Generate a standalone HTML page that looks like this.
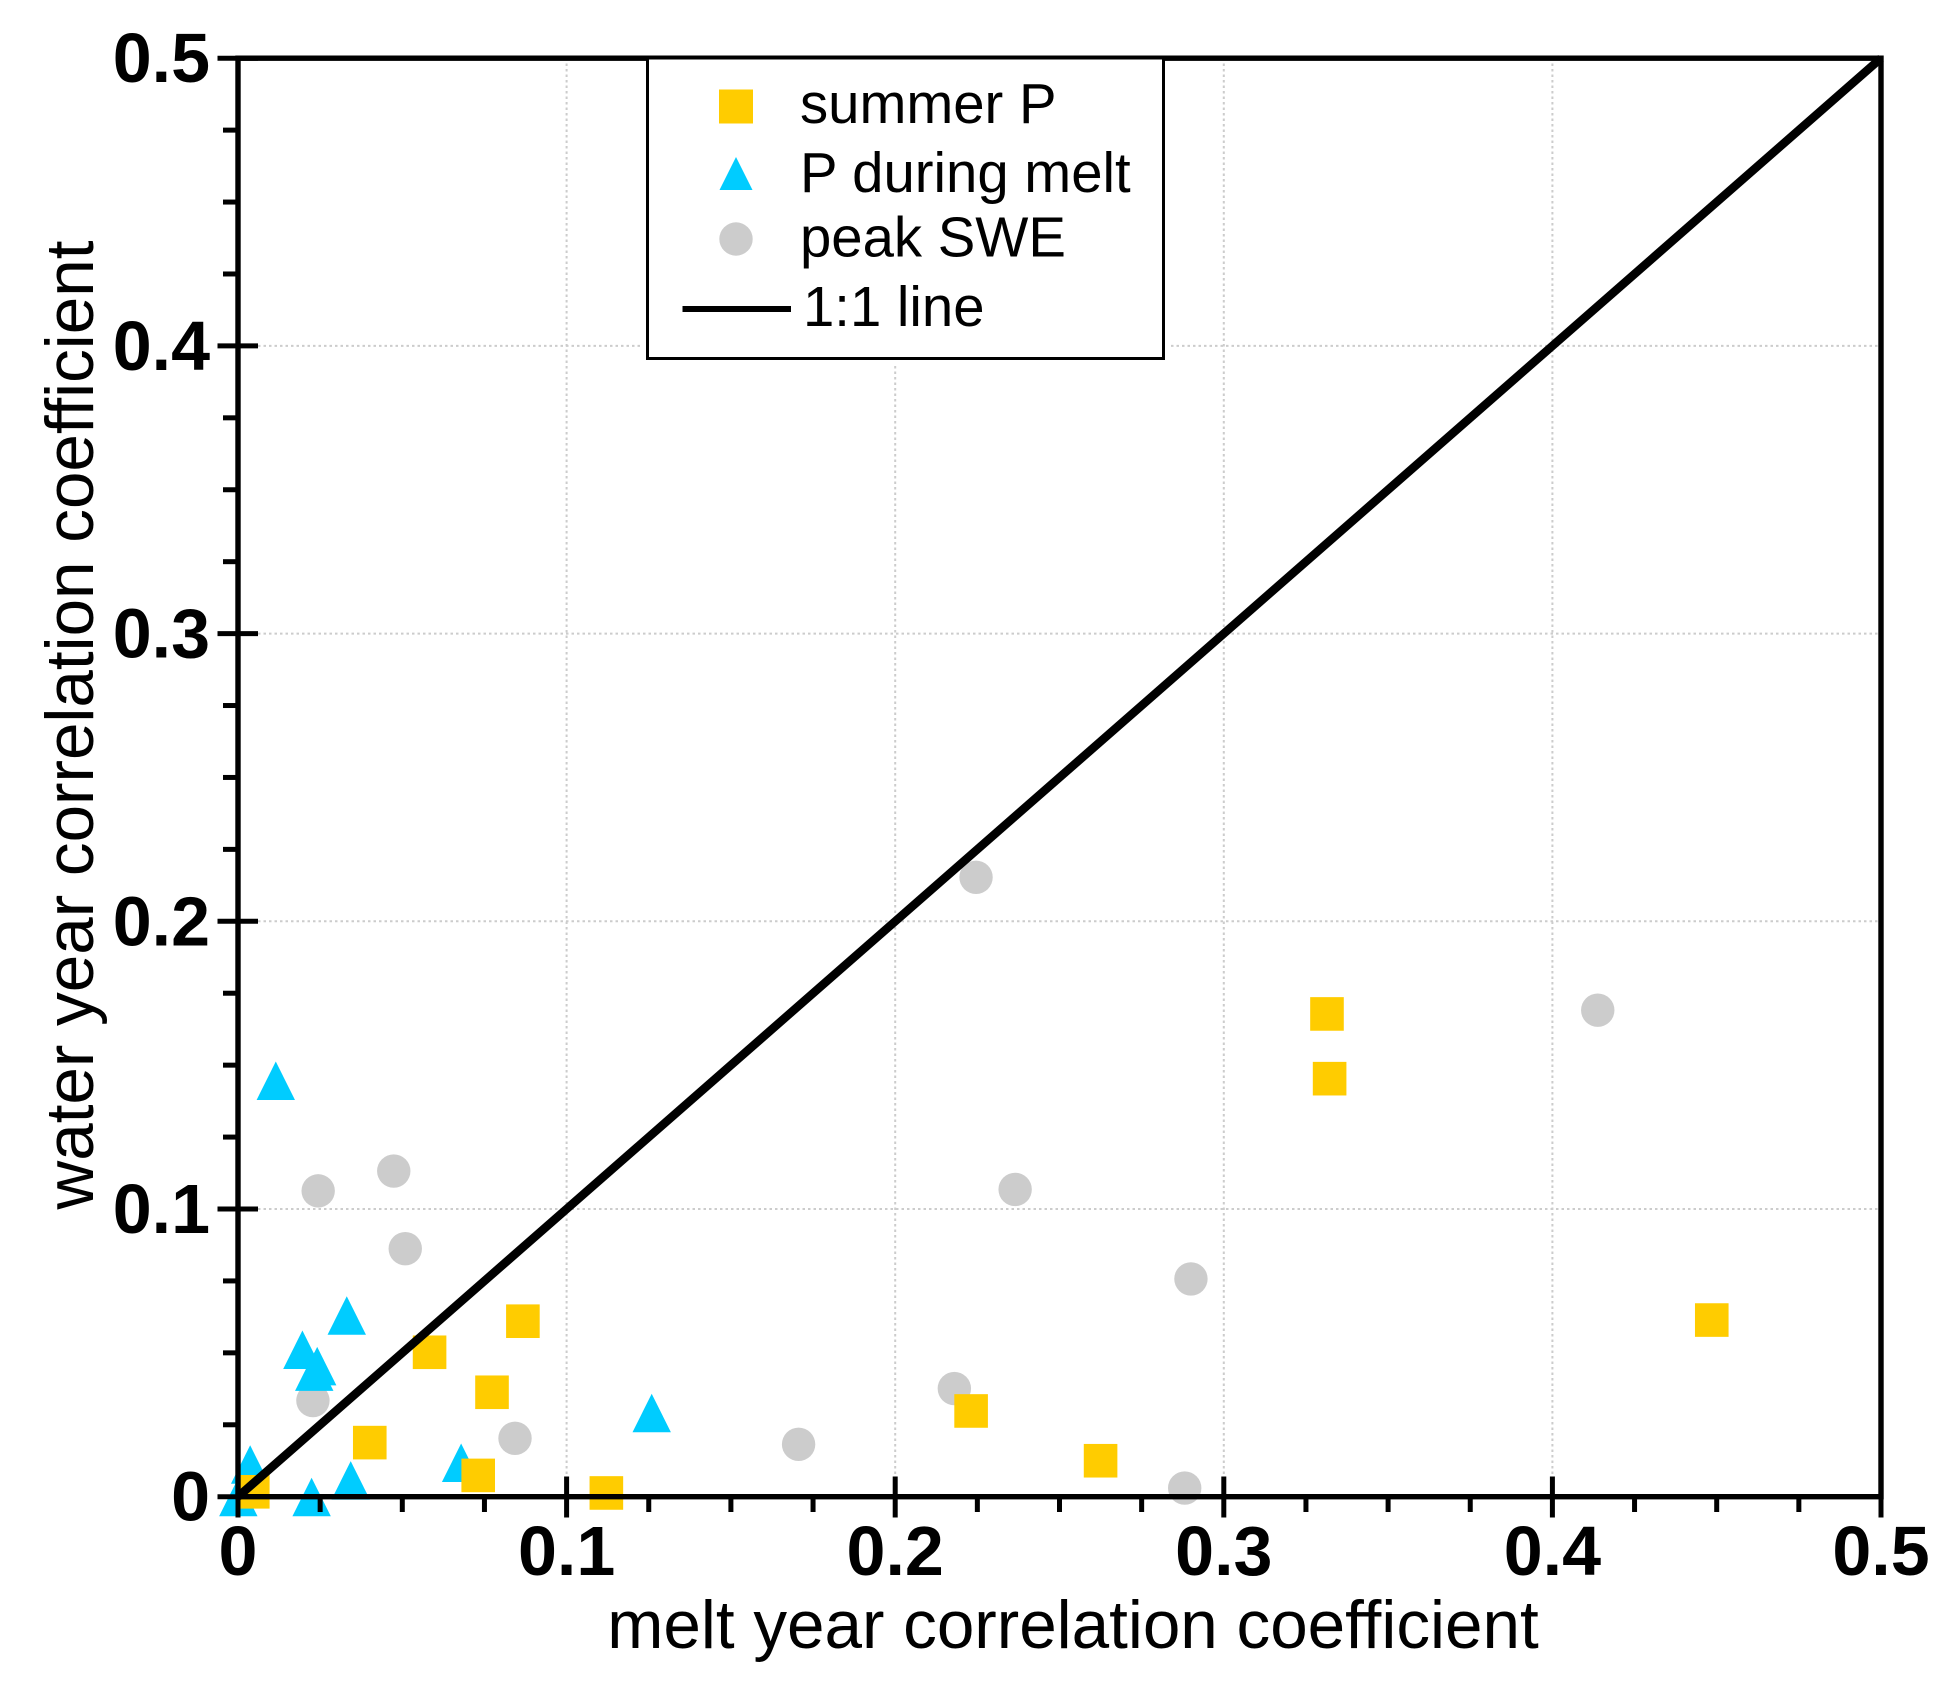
<!DOCTYPE html>
<html lang="en">
<head>
<meta charset="utf-8">
<title>Water year vs melt year correlation coefficient</title>
<style>
html,body{margin:0;padding:0;background:#fff;}
svg{display:block;}
text{font-family:"Liberation Sans",Arial,sans-serif;fill:#000;}
.tick-label{font-weight:bold;font-size:70px;}
.axis-title{font-size:67.4px;}
.legend-text{font-size:56.3px;}
</style>
</head>
<body>
<svg id="chart" xmlns="http://www.w3.org/2000/svg" width="1953" height="1695" viewBox="0 0 1953 1695">
  <rect x="0" y="0" width="1953" height="1695" fill="#ffffff"/>
  <g id="grid"></g>
  <g id="gray"></g>
  <g id="blue"></g>
  <g id="gold"></g>
  <g id="oneone"></g>
  <g id="axes"></g>
  <g id="labels"></g>
  <text class="axis-title" x="1073" y="1648" text-anchor="middle">melt year correlation coefficient</text>
  <text class="axis-title" x="0" y="0" text-anchor="middle" transform="translate(93 725) rotate(-90)">water year correlation coefficient</text>
  <g>
    <rect x="642" y="62" width="527" height="302" fill="#ffffff"/>
    <rect x="647.5" y="58" width="516" height="300.5" fill="#ffffff" stroke="#000000" stroke-width="3"/>
    <rect x="719" y="89.5" width="34" height="34" fill="#ffcc00"/>
    <polygon points="736,157 719.5,190 752.5,190" fill="#00ccff"/>
    <circle cx="736" cy="239" r="16.7" fill="#cccccc"/>
    <line x1="682.5" y1="309" x2="791" y2="309" stroke="#000000" stroke-width="6"/>
    <text class="legend-text" x="800" y="123">summer P</text>
    <text class="legend-text" x="800" y="192">P during melt</text>
    <text class="legend-text" x="800" y="256.5">peak SWE</text>
    <text class="legend-text" x="803" y="326">1:1 line</text>
  </g>
</svg>
<script>
const summerX = [0.3314,0.3322,0.4485,0.2231,0.2625,0.0867,0.0583,0.0773,0.0401,0.0731,0.1121,0.0045];
const summerY = [0.1678,0.1453,0.0614,0.0298,0.0125,0.0610,0.0502,0.0363,0.0188,0.0074,0.0013,0.0017];
const meltX = [0.0115,0.0331,0.0196,0.0241,0.0232,0.0037,0.0001,0.0224,0.0343,0.0679,0.1259];
const meltY = [0.1445,0.0629,0.0510,0.0453,0.0434,0.0111,-0.0002,-0.0002,0.0056,0.0117,0.0290];
const sweX = [0.2246,0.4138,0.2365,0.2900,0.1706,0.2180,0.2881,0.0843,0.0228,0.0244,0.0474,0.0509];
const sweY = [0.2153,0.1691,0.1068,0.0757,0.0182,0.0376,0.0030,0.0203,0.0334,0.1063,0.1132,0.0862];
const oneOne = [0,0.5];
const majorTicks = [0,0.1,0.2,0.3,0.4,0.5];
const minorTicks = [0.025,0.05,0.075,0.125,0.15,0.175,0.225,0.25,0.275,0.325,0.35,0.375,0.425,0.45,0.475];
const tickLabels = ["0","0.1","0.2","0.3","0.4","0.5"];

const NS = "http://www.w3.org/2000/svg";
function sx(v){ return 238 + v * 3286; }
function sy(v){ return 1496.7 - v * 2877; }
function mk(tag, parent, attrs){
  const el = document.createElementNS(NS, tag);
  for (const k in attrs) el.setAttribute(k, attrs[k]);
  document.getElementById(parent).appendChild(el);
  return el;
}

/* grid */
majorTicks.forEach(function(t, i){
  if (i === 0) return;
  const gh = mk("line", "grid", {x1: 258, x2: 1881, y1: sy(t), y2: sy(t), stroke: "#cccccc", "stroke-width": 2, "stroke-dasharray": "2.5 3"});
  
  
  const gv = mk("line", "grid", {x1: sx(t), x2: sx(t), y1: 58, y2: 1476, stroke: "#cccccc", "stroke-width": 2, "stroke-dasharray": "2.5 3"});
  
  
});

/* series */
sweX.forEach(function(x, i){
  const c = mk("circle", "gray", {cx: sx(x), cy: sy(sweY[i]), r: 16.7, fill: "#cccccc"});
  
  
});
meltX.forEach(function(x, i){
  const px = sx(x), py = sy(meltY[i]);
  const t = mk("polygon", "blue", {points: px + "," + (py - 19.5) + " " + (px - 19.2) + "," + (py + 19) + " " + (px + 19.2) + "," + (py + 19), fill: "#00ccff"});
  
  
});
summerX.forEach(function(x, i){
  const r = mk("rect", "gold", {x: sx(x) - 16.8, y: sy(summerY[i]) - 16.8, width: 33.6, height: 33.6, fill: "#ffcc00"});
  
  
});

/* frame */
const frame = mk("rect", "axes", {x: sx(0), y: sy(0.5), width: sx(0.5) - sx(0), height: sy(0) - sy(0.5), fill: "none", stroke: "#000000", "stroke-width": 5.4});



/* ticks */
majorTicks.forEach(function(t, i){
  const tx = mk("line", "axes", {x1: sx(t), x2: sx(t), y1: i === 0 ? sy(0) : 1476.5, y2: 1517.5, stroke: "#000000", "stroke-width": 5});
  
  
  const ty = mk("line", "axes", {x1: 217.5, x2: i === 0 ? sx(0) : 258, y1: sy(t), y2: sy(t), stroke: "#000000", "stroke-width": 5});
  
  

  const lx = mk("text", "labels", {x: sx(t), y: 1575, "text-anchor": "middle", "class": "tick-label"});
  lx.textContent = tickLabels[i];
  
  
  const ly = mk("text", "labels", {x: 210, y: sy(t) + 24, "text-anchor": "end", "class": "tick-label"});
  ly.textContent = tickLabels[i];
  
  
});
minorTicks.forEach(function(t){
  const tx = mk("line", "axes", {x1: sx(t), x2: sx(t), y1: sy(0), y2: 1512, stroke: "#000000", "stroke-width": 5});
  
  
  const ty = mk("line", "axes", {x1: 223, x2: sx(0), y1: sy(t), y2: sy(t), stroke: "#000000", "stroke-width": 5});
  
  
});

/* 1:1 line, above frame and ticks */
const refLine = mk("line", "oneone", {x1: sx(oneOne[0]), y1: sy(oneOne[0]), x2: sx(oneOne[1]), y2: sy(oneOne[1]), stroke: "#000000", "stroke-width": 8.5});


</script>
</body>
</html>
